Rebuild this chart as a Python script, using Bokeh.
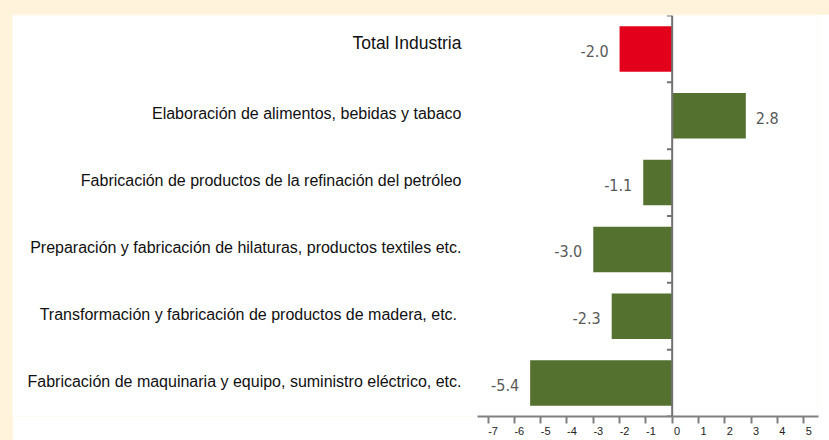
from bokeh.plotting import figure
from bokeh.models import (ColumnDataSource, Range1d, FixedTicker, Span, LinearAxis,
                          CustomJSTickFormatter)
from bokeh.core.properties import value
from bokeh.embed import file_html
from bokeh.resources import INLINE

# ---- data ----
categories = [
    "Total Industria",
    "Elaboración de alimentos, bebidas y tabaco",
    "Fabricación de productos de la refinación del petróleo",
    "Preparación y fabricación de hilaturas, productos textiles etc.",
    "Transformación y fabricación de productos de madera,  etc.",
    "Fabricación de maquinaria y equipo, suministro eléctrico, etc.",
]
values = [-2.0, 2.8, -1.1, -3.0, -2.3, -5.4]
x_ticks = [-7, -6, -5, -4, -3, -2, -1, 0, 1, 2, 3, 4, 5]

# ---- styling ----
RED = "#e2001a"
GREEN = "#557130"
AXIS_GRAY = "#737373"
FONT = "Liberation Sans"
NARROW = "Liberation Sans Narrow, DejaVu Sans Condensed, Liberation Sans"
LABEL_SHIFT = 0.19  # tick labels sit just right of their tick marks

n = len(categories)
ypos = list(range(n))
colors = [RED if c == "Total Industria" else GREEN for c in categories]

p = figure(
    width=817, height=426,
    x_range=Range1d(-25.08, 5.563),
    y_range=Range1d(n - 0.5, -0.5),
    y_axis_location=None,
    output_backend="svg", toolbar_location=None,
    min_border_left=0, min_border_right=11, min_border_top=1, min_border_bottom=24,
)
p.background_fill_color = "white"
p.border_fill_color = "white"
p.outline_line_color = None
p.xgrid.visible = False
p.ygrid.visible = False

# bars
bar_src = ColumnDataSource(dict(y=ypos, v=values, color=colors))
p.hbar(y="y", left=0, right="v", height=0.68, fill_color="color", line_color=None, source=bar_src)

# value labels
neg = [(y, v) for y, v in zip(ypos, values) if v < 0]
pos = [(y, v) for y, v in zip(ypos, values) if v >= 0]
neg_src = ColumnDataSource(dict(y=[a for a, _ in neg], v=[b for _, b in neg],
                                t=[f"{b:.1f}" for _, b in neg]))
pos_src = ColumnDataSource(dict(y=[a for a, _ in pos], v=[b for _, b in pos],
                                t=[f"{b:.1f}" for _, b in pos]))
for src, align, off in ((neg_src, "right", -11), (pos_src, "left", 10)):
    p.text(x="v", y="y", text="t", source=src, x_offset=off, y_offset=2,
           text_align=align, text_baseline="middle",
           text_font=value(NARROW), text_font_size="16px", text_color="#595959")

# category labels
LABEL_X = -8.01
cat_src = ColumnDataSource(dict(
    y=ypos, t=categories,
    size=["17.5px" if i == 0 else "16px" for i in ypos],
    yoff=[-6 if i == 0 else -2 for i in ypos],
))
p.text(x=LABEL_X, y="y", text="t", source=cat_src, y_offset="yoff",
       text_align="right", text_baseline="middle",
       text_font=value(FONT), text_font_size="size", text_color="#111111")

# zero axis with category boundary ticks
p.add_layout(Span(location=0, dimension="height", line_color=AXIS_GRAY, line_width=2))
bounds_y = [i - 0.5 for i in range(n + 1)]
p.segment(x0=[0] * len(bounds_y), x1=[-0.2] * len(bounds_y), y0=bounds_y, y1=bounds_y,
          line_color=AXIS_GRAY, line_width=2)

# bottom axis: line + tick marks
ax = p.xaxis[0]
ax.ticker = FixedTicker(ticks=x_ticks)
ax.major_label_overrides = {t: "" for t in x_ticks}
ax.bounds = (-7.42, 5.563)
ax.axis_line_color = "#808080"
ax.axis_line_width = 2
ax.major_tick_line_color = "#808080"
ax.major_tick_line_width = 2
ax.major_tick_out = 7
ax.major_tick_in = 0
ax.minor_tick_line_color = None
ax.major_label_standoff = 0

# bottom axis: tick labels, slightly right of the tick marks
lab_ax = LinearAxis(
    ticker=FixedTicker(ticks=[t + LABEL_SHIFT for t in x_ticks]),
    formatter=CustomJSTickFormatter(args=dict(shift=LABEL_SHIFT),
                                    code="return String(Math.round(tick - shift));"),
    axis_line_color=None, major_tick_line_color=None, minor_tick_line_color=None,
    major_tick_out=0, major_tick_in=0, major_label_standoff=3,
    major_label_text_font=FONT, major_label_text_font_size="11px",
    major_label_text_color="#222222",
)
p.add_layout(lab_ax, "below")

html = file_html(p, INLINE, title="chart")
style = "<style>html,body{margin:0;padding:0;background:#fff3db;overflow:hidden;}body{padding:14px 0 0 12px;}</style>"
html = html.replace("</head>", style + "</head>", 1)
open("out.html", "w").write(html)
